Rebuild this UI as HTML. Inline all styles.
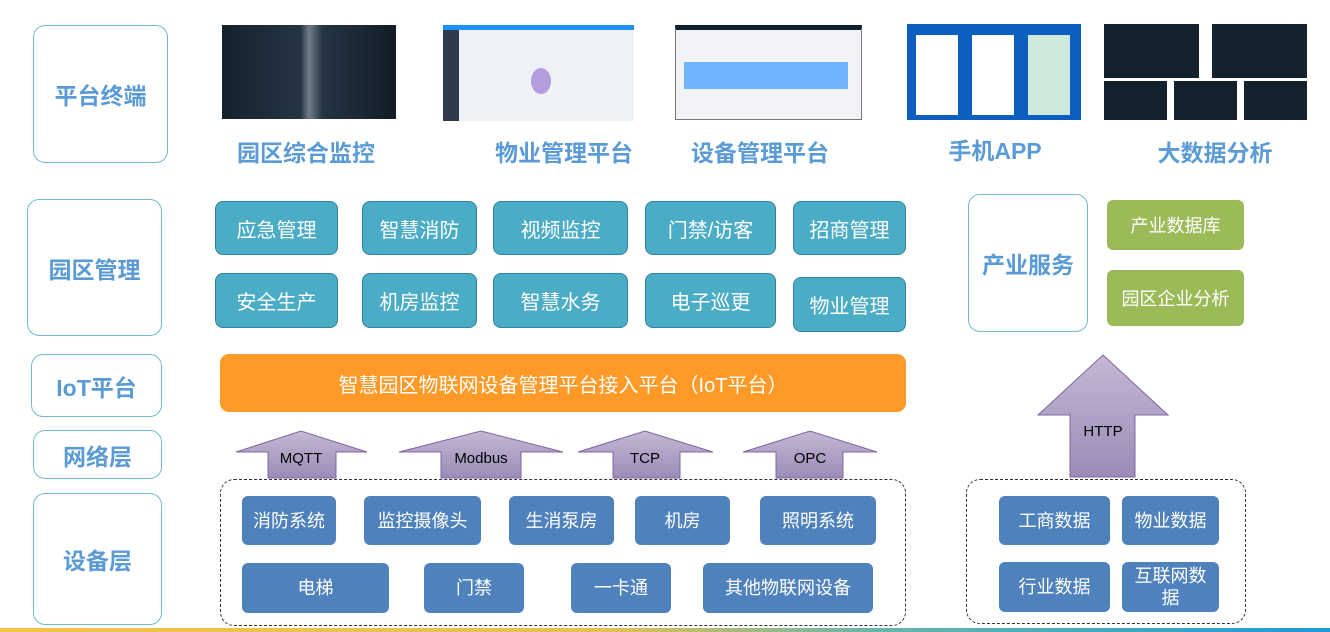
<!DOCTYPE html>
<html><head><meta charset="utf-8"><style>
*{margin:0;padding:0;box-sizing:border-box}
body{width:1330px;height:632px;background:#fff;position:relative;overflow:hidden;font-family:"Liberation Sans","Noto Sans CJK SC",sans-serif}
.a{position:absolute}
.lab{position:absolute;border:1.5px solid #6fbcd0;border-radius:12px;color:#5b9bd5;font-weight:bold;font-size:23px;display:flex;align-items:center;justify-content:center}
.t{position:absolute;background:#4bacc6;border:1.5px solid #31849b;border-radius:8px;color:#fff;font-size:20px;display:flex;align-items:center;justify-content:center}
.b{position:absolute;background:#4f81bd;border-radius:6px;color:#fff;font-size:18px;display:flex;align-items:center;justify-content:center;text-align:center;line-height:22px}
.g{position:absolute;background:#9bbb59;border-radius:6px;color:#fff;font-size:18px;display:flex;align-items:center;justify-content:center}
.cap{position:absolute;color:#5b9bd5;font-weight:bold;font-size:23px;text-align:center;width:200px}
.dash{position:absolute;border:1.5px dashed #333;border-radius:14px}
</style></head><body>
<div class="lab" style="left:33px;top:25px;width:135px;height:138px">平台终端</div>
<div class="lab" style="left:27px;top:199px;width:135px;height:137px">园区管理</div>
<div class="lab" style="left:31px;top:354px;width:131px;height:63px">IoT平台</div>
<div class="lab" style="left:33px;top:430px;width:129px;height:49px">网络层</div>
<div class="lab" style="left:33px;top:493px;width:129px;height:132px">设备层</div>

<!-- screenshots -->
<div class="a" style="left:222px;top:25px;width:174px;height:94px;background:linear-gradient(90deg,#15222e,#243444 45%,#6f7c88 50%,#243444 58%,#111c26)"></div>
<div class="a" style="left:443px;top:25px;width:191px;height:96px;background:#eef1f5;border-top:5px solid #1e90ff"><div class="a" style="left:0;top:0;width:16px;height:91px;background:#2f3a4c"></div><div class="a" style="left:88px;top:38px;width:20px;height:26px;border-radius:50%;background:#b49ddc"></div></div>
<div class="a" style="left:675px;top:25px;width:187px;height:95px;background:#f1f3f6;border:1px solid #777;border-top:5px solid #10202e"><div class="a" style="left:8px;top:32px;width:164px;height:27px;background:#6fb4ff"></div></div>
<div class="a" style="left:907px;top:24px;width:174px;height:96px;background:#0c5fbf"><div class="a" style="left:9px;top:11px;width:42px;height:80px;background:#fff"></div><div class="a" style="left:65px;top:11px;width:42px;height:80px;background:#fff"></div><div class="a" style="left:121px;top:11px;width:42px;height:80px;background:#cfe8dc"></div></div>
<div class="a" style="left:1104px;top:24px;width:95px;height:54px;background:#14222e"></div>
<div class="a" style="left:1212px;top:24px;width:95px;height:54px;background:#14222e"></div>
<div class="a" style="left:1104px;top:81px;width:63px;height:39px;background:#14222e"></div>
<div class="a" style="left:1174px;top:81px;width:63px;height:39px;background:#14222e"></div>
<div class="a" style="left:1244px;top:81px;width:63px;height:39px;background:#14222e"></div>
<div class="cap" style="left:206px;top:134px">园区综合监控</div>
<div class="cap" style="left:464px;top:134px">物业管理平台</div>
<div class="cap" style="left:660px;top:134px">设备管理平台</div>
<div class="cap" style="left:895px;top:132px">手机APP</div>
<div class="cap" style="left:1115px;top:134px">大数据分析</div>

<div class="t" style="left:215px;top:201px;width:123px;height:54px">应急管理</div>
<div class="t" style="left:362px;top:201px;width:115px;height:54px">智慧消防</div>
<div class="t" style="left:493px;top:201px;width:135px;height:54px">视频监控</div>
<div class="t" style="left:645px;top:201px;width:131px;height:54px">门禁/访客</div>
<div class="t" style="left:793px;top:201px;width:113px;height:54px">招商管理</div>
<div class="t" style="left:215px;top:273px;width:123px;height:55px">安全生产</div>
<div class="t" style="left:362px;top:273px;width:115px;height:55px">机房监控</div>
<div class="t" style="left:493px;top:273px;width:135px;height:55px">智慧水务</div>
<div class="t" style="left:645px;top:273px;width:131px;height:55px">电子巡更</div>
<div class="t" style="left:793px;top:277px;width:113px;height:55px">物业管理</div>

<div class="lab" style="left:968px;top:194px;width:120px;height:138px">产业服务</div>
<div class="g" style="left:1107px;top:200px;width:137px;height:50px">产业数据库</div>
<div class="g" style="left:1107px;top:270px;width:137px;height:56px">园区企业分析</div>

<div class="a" style="left:220px;top:354px;width:686px;height:58px;background:#ff9a28;border-radius:9px;color:#fff;font-size:20px;display:flex;align-items:center;justify-content:center">智慧园区物联网设备管理平台接入平台（IoT平台）</div>

<svg class="a" style="left:0;top:0" width="1330" height="632">
<defs><linearGradient id="p" x1="0" y1="0" x2="0" y2="1"><stop offset="0" stop-color="#c3b8d3"/><stop offset="1" stop-color="#9c8bb8"/></linearGradient></defs>
<g fill="url(#p)" stroke="#8064a2" stroke-width="1">
<polygon points="268,478 268,452 236,452 301,431 367,452 336,452 336,478"/>
<polygon points="441,478 441,452 399,452 481,431 563,452 521,452 521,478"/>
<polygon points="613,478 613,452 578,452 645,431 713,452 680,452 680,478"/>
<polygon points="776,478 776,452 743,452 810,431 877,452 843,452 843,478"/>
<polygon points="1070,477 1070,415 1038,415 1103,355 1168,415 1135,415 1135,477"/>
</g>
<g font-family="Liberation Sans,sans-serif" font-size="15" fill="#000" text-anchor="middle">
<text x="301" y="463">MQTT</text><text x="481" y="463">Modbus</text><text x="645" y="463">TCP</text><text x="810" y="463">OPC</text><text x="1103" y="436">HTTP</text>
</g>
<defs><linearGradient id="bar" x1="0" x2="1"><stop offset="0" stop-color="#f3c34a"/><stop offset="0.45" stop-color="#e8c050"/><stop offset="0.65" stop-color="#6cb6a8"/><stop offset="1" stop-color="#1d9ad6"/></linearGradient></defs>
<rect x="0" y="628" width="1330" height="4" fill="url(#bar)"/>
</svg>

<div class="dash" style="left:220px;top:479px;width:686px;height:147px"></div>
<div class="dash" style="left:966px;top:479px;width:280px;height:145px"></div>
<div class="b" style="left:242px;top:496px;width:94px;height:49px">消防系统</div>
<div class="b" style="left:364px;top:496px;width:117px;height:49px">监控摄像头</div>
<div class="b" style="left:509px;top:496px;width:105px;height:49px">生消泵房</div>
<div class="b" style="left:635px;top:496px;width:95px;height:49px">机房</div>
<div class="b" style="left:760px;top:496px;width:116px;height:49px">照明系统</div>
<div class="b" style="left:242px;top:563px;width:147px;height:50px">电梯</div>
<div class="b" style="left:424px;top:563px;width:100px;height:50px">门禁</div>
<div class="b" style="left:571px;top:563px;width:100px;height:50px">一卡通</div>
<div class="b" style="left:703px;top:563px;width:170px;height:50px">其他物联网设备</div>
<div class="b" style="left:999px;top:496px;width:111px;height:49px">工商数据</div>
<div class="b" style="left:1122px;top:496px;width:97px;height:49px">物业数据</div>
<div class="b" style="left:999px;top:562px;width:111px;height:50px">行业数据</div>
<div class="b" style="left:1122px;top:562px;width:97px;height:50px">互联网数<br>据</div>
</body></html>
